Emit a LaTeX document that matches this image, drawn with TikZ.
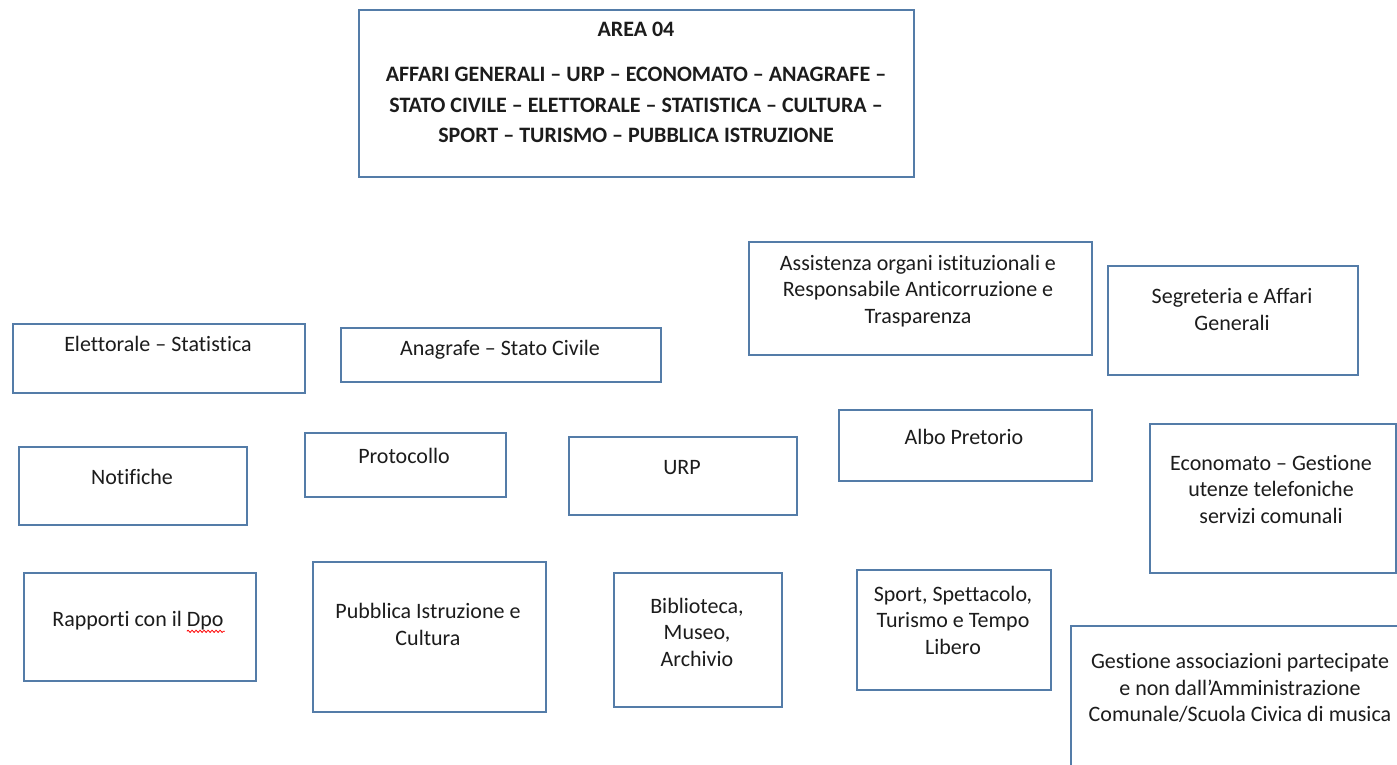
\documentclass[tikz,border=0pt]{standalone}
\usepackage{fontspec}
\setmainfont{Carlito}[Ligatures=NoCommon]
\usetikzlibrary{calc,decorations.pathmorphing}
\definecolor{boxline}{RGB}{84,124,168}
\definecolor{ink}{RGB}{28,28,28}
\begin{document}
\begin{tikzpicture}[x=1pt,y=-1pt,
  box/.style={draw=boxline, line width=1.6pt, rectangle, inner sep=0pt, anchor=north west},
  txt/.style={text=ink, align=center, inner sep=0pt, yshift=-3pt,
    font=\fontsize{22}{26.5}\selectfont,
    execute at begin node={\strut}, execute at end node={\strut}},
  head/.style={txt, yshift=-3pt, font=\fontsize{22}{30.5}\selectfont\bfseries}]
\useasboundingbox (0,0) rectangle (1397,765);
\clip (0,0) rectangle (1397,765);
\fill[white] (0,0) rectangle (1397,765);

% title box
\node[box, minimum width=555pt, minimum height=167pt] (area) at (358,9) {};
\node[head] (areat) at (636,81) {AREA 04\\[14.5pt]AFFARI GENERALI -- URP -- ECONOMATO -- ANAGRAFE --\\STATO CIVILE -- ELETTORALE -- STATISTICA -- CULTURA --\\SPORT -- TURISMO -- PUBBLICA ISTRUZIONE};

% upper row
\node[box, minimum width=292pt, minimum height=69pt] (elet) at (12,323) {};
\node[txt] (elett) at (158,343) {Elettorale -- Statistica};

\node[box, minimum width=320pt, minimum height=54pt] (anag) at (340,327) {};
\node[txt] (anagt) at (500,347) {Anagrafe -- Stato Civile};

\node[box, minimum width=343pt, minimum height=113pt] (assi) at (748,241) {};
\node[txt] (assit) at (918,290) {Assistenza organi istituzionali e\\Responsabile Anticorruzione e\\Trasparenza};

\node[box, minimum width=250pt, minimum height=109pt] (segr) at (1107,265) {};
\node[txt] (segrt) at (1232,310.5) {Segreteria e Affari\\Generali};

% middle row
\node[box, minimum width=228pt, minimum height=78pt] (noti) at (18,446) {};
\node[txt] (notit) at (132,476) {Notifiche};

\node[box, minimum width=201pt, minimum height=64pt] (prot) at (304,432) {};
\node[txt] (prott) at (404,455) {Protocollo};

\node[box, minimum width=228pt, minimum height=78pt] (urp) at (568,436) {};
\node[txt] (urpt) at (682,466) {URP};

\node[box, minimum width=253pt, minimum height=71pt] (albo) at (838,409) {};
\node[txt] (albot) at (964,436) {Albo Pretorio};

\node[box, minimum width=246pt, minimum height=149pt] (econ) at (1149,423) {};
\node[txt] (econt) at (1271,490) {Economato -- Gestione\\utenze telefoniche\\servizi comunali};

% lower row
\node[box, minimum width=232pt, minimum height=108pt] (rapp) at (23,572) {};
\node[txt] (rappt) at (138,618) {Rapporti con il Dpo};
\draw[red, line width=0.8pt, decorate,
  decoration={snake, amplitude=1.1pt, segment length=4pt}]
  ($(rappt.base east)+(-37,5)$) -- ($(rappt.base east)+(1,5)$);

\node[box, minimum width=233pt, minimum height=150pt] (pubb) at (312,561) {};
\node[txt] (pubbt) at (428,625.5) {Pubblica Istruzione e\\Cultura};

\node[box, minimum width=168pt, minimum height=134pt] (bibl) at (613,572) {};
\node[txt] (biblt) at (697,633) {Biblioteca,\\Museo,\\Archivio};

\node[box, minimum width=194pt, minimum height=120pt] (spor) at (856,569) {};
\node[txt] (sport) at (953,621) {Sport, Spettacolo,\\Turismo e Tempo\\Libero};

\node[box, minimum width=345pt, minimum height=200pt] (gest) at (1070,625) {};
\node[txt] (gestt) at (1240,688.5) {Gestione associazioni partecipate\\e non dall’Amministrazione\\Comunale/Scuola Civica di musica};
\end{tikzpicture}
\end{document}
